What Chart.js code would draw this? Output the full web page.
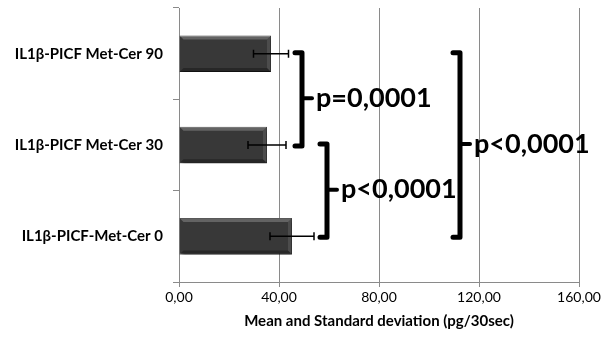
<!DOCTYPE html>
<html>
<head>
<meta charset="utf-8">
<script src="https://cdn.jsdelivr.net/npm/chart.js@4"></script>
<style>
  body { margin: 0; background: #fff; }
  #wrap { width: 605px; height: 344px; }
</style>
</head>
<body>
<div id="wrap"><canvas id="myChart"></canvas></div>
<script>
const labels = ['IL1β-PICF Met-Cer 90', 'IL1β-PICF Met-Cer 30', 'IL1β-PICF-Met-Cer 0'];
const means = [36.8, 35.2, 45.2];
const sds = [7.0, 7.6, 8.8];
const xTicks = [0, 40, 80, 120, 160];

// significance brackets: from category, to category, x value, text
const bracketFrom = [0, 1, 0];
const bracketTo = [1, 2, 2];
const bracketX = [49.2, 59.2, 112.4];
const bracketText = ['p=0,0001', 'p<0,0001', 'p<0,0001'];

const shadow = {
  id: 'shadow',
  beforeDatasetsDraw(chart) {
    const c = chart.ctx;
    c.save();
    c.shadowColor = 'rgba(0,0,0,0.45)';
    c.shadowOffsetX = 2;
    c.shadowOffsetY = 3;
    c.shadowBlur = 3;
  },
  afterDatasetsDraw(chart) {
    chart.ctx.restore();
  }
};

const extras = {
  id: 'extras',
  afterDatasetsDraw(chart) {
    const c = chart.ctx;
    const x = chart.scales.x;
    const y = chart.scales.y;
    c.save();
    // bevel highlight on the bars
    chart.getDatasetMeta(0).data.forEach(b => {
      const top = b.y - b.height / 2;
      const bot = b.y + b.height / 2;
      const l = b.base, r = b.x;
      c.fillStyle = 'rgba(255,255,255,0.22)';
      c.beginPath();
      c.moveTo(l, top); c.lineTo(r, top); c.lineTo(r - 4, top + 4); c.lineTo(l + 4, top + 4);
      c.closePath(); c.fill();
      c.fillStyle = 'rgba(255,255,255,0.1)';
      c.beginPath();
      c.moveTo(r, top); c.lineTo(r, bot); c.lineTo(r - 4, bot - 4); c.lineTo(r - 4, top + 4);
      c.closePath(); c.fill();
      c.fillStyle = 'rgba(0,0,0,0.3)';
      c.beginPath();
      c.moveTo(l, bot); c.lineTo(r, bot); c.lineTo(r - 4, bot - 4); c.lineTo(l + 4, bot - 4);
      c.closePath(); c.fill();
    });
    // error bars
    c.strokeStyle = '#000';
    c.lineWidth = 1.5;
    means.forEach((m, i) => {
      const py = y.getPixelForValue(i);
      const x1 = x.getPixelForValue(m - sds[i]);
      const x2 = x.getPixelForValue(m + sds[i]);
      c.beginPath();
      c.moveTo(x1, py); c.lineTo(x2, py);
      c.moveTo(x1, py - 4); c.lineTo(x1, py + 4);
      c.moveTo(x2, py - 4); c.lineTo(x2, py + 4);
      c.stroke();
    });
    // brackets
    c.lineJoin = 'round';
    c.lineCap = 'round';
    c.fillStyle = '#000';
    c.font = 'bold 27px Lato';
    c.textAlign = 'left';
    c.textBaseline = 'middle';
    bracketText.forEach((t, i) => {
      const bx = x.getPixelForValue(bracketX[i]);
      const top = y.getPixelForValue(bracketFrom[i]) - 1;
      const bot = y.getPixelForValue(bracketTo[i]) + 1;
      const mid = (top + bot) / 2 - 1;
      c.lineWidth = 5;
      c.beginPath();
      c.moveTo(bx - 7, top);
      c.lineTo(bx, top);
      c.lineTo(bx, bot);
      c.lineTo(bx - 7, bot);
      c.stroke();
      c.lineWidth = 4;
      c.beginPath();
      c.moveTo(bx, mid); c.lineTo(bx + 10, mid);
      c.stroke();
      c.fillText(t, bx + 14, mid);
    });
    c.restore();
  }
};

const ctx = document.getElementById('myChart');

new Chart(ctx, {
  type: 'bar',
  data: {
    labels: labels,
    datasets: [{
      data: means,
      backgroundColor: '#383838',
      borderColor: '#2a2a2a',
      borderWidth: 1,
      categoryPercentage: 0.8,
      barPercentage: 0.5
    }]
  },
  options: {
    indexAxis: 'y',
    responsive: true,
    maintainAspectRatio: false,
    animation: false,
    layout: { padding: { top: 8, right: 26, left: 0, bottom: 0 } },
    plugins: {
      legend: { display: false },
      tooltip: { enabled: false }
    },
    scales: {
      x: {
        min: 0,
        max: 160,
        afterBuildTicks(scale) {
          scale.ticks = xTicks.map(v => ({ value: v }));
        },
        afterFit(scale) {
          scale.height = 62;
          scale.paddingLeft = 0;
          scale.paddingRight = 0;
        },
        grid: { color: '#8a8a8a', lineWidth: 1, drawTicks: true, tickLength: 5 },
        border: { color: '#8a8a8a' },
        ticks: {
          color: '#000',
          padding: 2,
          font: { family: 'Lato', size: 14 },
          callback: v => v.toFixed(2).replace('.', ',')
        },
        title: {
          display: true,
          text: 'Mean and Standard deviation (pg/30sec)',
          color: '#000',
          padding: { top: 0, bottom: 14 },
          font: { family: 'Lato', size: 15, weight: 'bold' }
        }
      },
      y: {
        afterFit(scale) {
          scale.width = 179;
          scale.paddingTop = 0;
          scale.paddingBottom = 0;
        },
        grid: { drawOnChartArea: false, drawTicks: true, tickLength: 6, color: '#8a8a8a' },
        border: { color: '#8a8a8a' },
        ticks: {
          color: '#000',
          padding: 10,
          font: { family: 'Lato', size: 15, weight: 'bold' }
        }
      }
    }
  },
  plugins: [shadow, extras]
});
</script>
</body>
</html>
